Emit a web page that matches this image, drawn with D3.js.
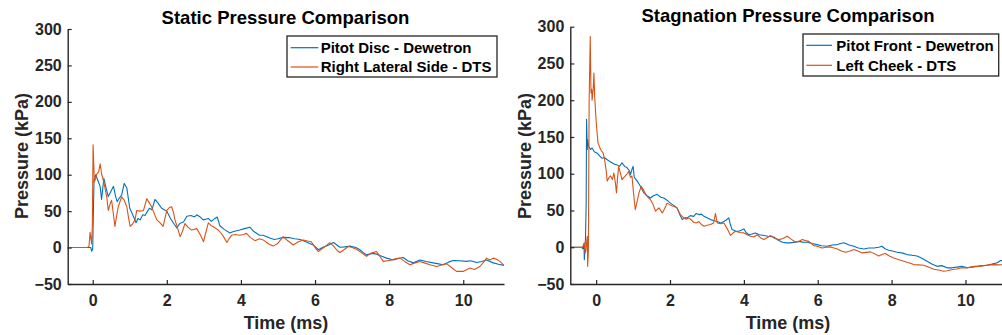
<!DOCTYPE html>
<html><head><meta charset="utf-8">
<script src="https://cdn.jsdelivr.net/npm/d3@7"></script>
<style>
html,body{margin:0;padding:0;background:#fff;}
svg{display:block;font-family:"Liberation Sans",Arial,sans-serif;}
</style></head>
<body><svg id="c" width="1002" height="335"></svg>
<script>
const yTicks = [-50, 0, 50, 100, 150, 200, 250, 300];
const xTicks = [0, 2, 4, 6, 8, 10];
const titles = ["Static Pressure Comparison", "Stagnation Pressure Comparison"];
const legendLabels = [["Pitot Disc - Dewetron", "Right Lateral Side - DTS"], ["Pitot Front - Dewetron", "Left Cheek - DTS"]];
const xLabel = "Time (ms)";
const yLabel = "Pressure (kPa)";

// [time (ms), pressure (kPa)]
const staticDewetron = [[-0.675,0],[-0.3,0],[-0.05,0],[-0.03,-5],[0.0,-2],[0.035,93],[0.08,100],[0.14,92],[0.2,84],[0.24,66],[0.3,95],[0.36,82],[0.42,70],[0.5,78],[0.56,84],[0.62,70],[0.66,63],[0.72,68],[0.78,72],[0.85,88],[0.92,82],[1.0,54],[1.08,45],[1.17,34],[1.22,40],[1.28,38],[1.35,45],[1.41,44],[1.48,50],[1.53,54],[1.6,52],[1.68,66],[1.75,62],[1.86,54],[1.93,52],[2.0,50],[2.1,40],[2.2,32],[2.27,27],[2.35,33],[2.45,35],[2.54,43],[2.65,44],[2.75,42],[2.81,45],[2.9,42],[2.98,38],[3.05,39],[3.12,40],[3.2,36],[3.3,40],[3.36,42],[3.43,30],[3.55,25],[3.7,20],[3.8,22],[3.97,24],[4.1,26],[4.24,28],[4.35,22],[4.5,17],[4.6,17],[4.78,13],[4.9,11],[5.0,12],[5.15,14],[5.32,13.6],[5.45,12],[5.6,11],[5.75,8],[5.95,3.6],[6.09,-3],[6.2,0],[6.31,2.3],[6.5,7],[6.67,0.5],[6.8,1],[6.94,2],[7.1,0],[7.21,-3],[7.3,-7],[7.39,-10],[7.55,-8],[7.66,-9],[7.8,-12],[7.93,-14.5],[8.11,-17],[8.25,-15],[8.38,-13.6],[8.5,-18],[8.65,-21],[8.83,-17],[9.0,-19],[9.19,-21],[9.3,-22],[9.46,-23.6],[9.6,-20],[9.73,-17.7],[9.9,-18],[10.09,-19],[10.2,-18],[10.36,-20.5],[10.5,-19],[10.63,-17],[10.81,-21],[10.95,-23],[11.1,-24.5]];
const staticDTS = [[-0.675,0],[-0.15,0],[-0.1,2],[-0.07,21],[-0.03,5],[-0.01,30],[0.01,141],[0.045,90],[0.08,95],[0.11,101],[0.16,104],[0.2,115],[0.24,101],[0.3,90],[0.38,69],[0.42,51],[0.47,60],[0.51,65],[0.56,45],[0.6,29],[0.65,45],[0.69,56],[0.78,69.5],[0.85,65],[0.92,56],[0.97,40],[1.01,29],[1.07,32],[1.14,38],[1.19,51],[1.28,50],[1.37,51],[1.46,67],[1.52,62],[1.59,56],[1.65,48],[1.73,38],[1.8,35],[1.9,29],[1.95,40],[2.0,51],[2.07,55],[2.13,56],[2.18,48],[2.22,38],[2.3,25],[2.36,15],[2.42,22],[2.49,33],[2.57,28],[2.67,24],[2.81,26],[2.9,18],[2.99,8],[3.05,20],[3.12,34],[3.2,30],[3.26,28.6],[3.39,24],[3.46,20],[3.53,15],[3.62,7],[3.68,12],[3.75,17],[3.85,18],[3.97,17],[4.07,18],[4.15,19.5],[4.25,14],[4.38,9.5],[4.5,12],[4.6,10.5],[4.75,5],[4.87,2],[5.0,6],[5.14,15],[5.25,10],[5.41,3.6],[5.55,8],[5.68,10.5],[5.8,9],[5.9,8],[6.0,0],[6.09,-5.5],[6.18,-2],[6.27,1.4],[6.4,6.8],[6.5,2],[6.6,-4],[6.67,-6.8],[6.78,-3],[6.9,1.4],[7.0,0],[7.12,-2.3],[7.25,-7],[7.39,-12],[7.5,-8],[7.66,-5.5],[7.75,-12],[7.84,-19],[7.95,-18],[8.07,-17],[8.18,-15],[8.29,-14.5],[8.42,-19],[8.56,-23.6],[8.7,-21],[8.83,-19],[8.95,-21],[9.1,-23.6],[9.28,-26],[9.42,-24],[9.55,-22],[9.7,-28],[9.82,-32.7],[10.0,-32.7],[10.1,-30],[10.18,-28],[10.3,-30],[10.45,-26],[10.55,-20],[10.63,-14.5],[10.72,-17],[10.81,-14.5],[10.9,-16],[10.99,-19],[11.1,-24.5]];
const stagDewetron = [[-0.7,0],[-0.4,0],[-0.35,-2],[-0.33,5],[-0.32,-17],[-0.3,3],[-0.29,10],[-0.27,60],[-0.26,174],[-0.24,133],[-0.23,146],[-0.2,137],[-0.15,133],[-0.11,135],[-0.05,130],[0.03,128],[0.1,124],[0.16,121],[0.22,122],[0.3,119],[0.36,117],[0.43,115],[0.5,113],[0.57,112],[0.63,110],[0.7,115],[0.77,110],[0.84,108],[0.9,104],[0.93,99],[0.97,106],[1.0,110],[1.03,96],[1.05,94],[1.11,90],[1.2,83],[1.29,74],[1.38,70],[1.47,67],[1.55,70],[1.65,72],[1.75,68],[1.83,67],[1.92,64],[2.01,60],[2.1,57],[2.19,53.5],[2.26,45],[2.33,37.6],[2.4,40],[2.46,40],[2.55,43],[2.64,42],[2.71,46],[2.78,44.4],[2.85,45],[2.92,42],[3.0,40],[3.1,37.6],[3.2,36],[3.28,35],[3.37,33],[3.46,35],[3.52,37],[3.59,40],[3.63,32],[3.68,24],[3.77,22],[3.86,21.8],[3.93,23],[4.0,25],[4.06,20],[4.13,17],[4.22,18],[4.31,19.5],[4.42,17],[4.54,16],[4.65,15],[4.81,14],[4.92,10],[5.04,6.8],[5.15,6],[5.26,5.9],[5.38,7],[5.49,8],[5.6,7],[5.71,6.8],[5.85,5],[5.98,3.6],[6.1,2],[6.25,1.4],[6.4,3],[6.53,3.6],[6.62,5],[6.71,6],[6.85,3],[6.98,1.4],[7.1,-1],[7.25,-2.3],[7.38,-1],[7.52,-1],[7.65,0],[7.74,1.4],[7.82,-2],[7.92,-4],[8.05,-5.5],[8.15,-6.8],[8.3,-8],[8.42,-10],[8.55,-11],[8.69,-12],[8.82,-15],[8.96,-19],[9.1,-23],[9.23,-26],[9.36,-25],[9.5,-28],[9.63,-28],[9.77,-27],[9.9,-26],[10.05,-28],[10.18,-27],[10.32,-26],[10.45,-25],[10.59,-24.5],[10.72,-23],[10.86,-21],[10.95,-18],[11.1,-19]];
const stagDTS = [[-0.7,0],[-0.38,0],[-0.35,2],[-0.32,6],[-0.3,-8],[-0.28,-5],[-0.26,5],[-0.24,15],[-0.23,-26],[-0.21,-5],[-0.19,200],[-0.16,287],[-0.14,210],[-0.12,215],[-0.11,200],[-0.08,215],[-0.06,237],[-0.04,205],[-0.01,180],[0.01,165],[0.05,142],[0.12,133],[0.19,128],[0.23,119],[0.27,105],[0.3,90],[0.35,95],[0.39,97],[0.44,92],[0.48,101],[0.52,88],[0.55,74],[0.58,95],[0.61,110],[0.66,100],[0.7,92],[0.75,95],[0.79,97],[0.84,100],[0.88,103],[0.93,95],[0.97,97],[1.01,75],[1.06,51],[1.1,60],[1.16,74],[1.22,83],[1.28,78],[1.34,72],[1.4,68],[1.47,65],[1.54,58],[1.61,49],[1.7,53.5],[1.79,46.7],[1.85,52],[1.92,60],[1.99,58],[2.06,56],[2.13,55],[2.19,53.5],[2.28,44.4],[2.37,40],[2.44,38],[2.51,40],[2.58,37],[2.64,34],[2.71,33],[2.78,35],[2.85,31],[2.92,28.6],[3.0,30],[3.1,31],[3.18,33],[3.23,46],[3.26,38],[3.28,33],[3.37,32],[3.46,33],[3.55,25],[3.64,16],[3.7,19],[3.77,21.8],[3.88,20],[4.0,19.5],[4.09,17],[4.18,15],[4.27,14],[4.36,17],[4.45,13],[4.54,10.4],[4.63,13],[4.72,16],[4.83,12],[4.95,10.4],[5.06,12],[5.17,15],[5.28,11],[5.4,6.8],[5.49,8],[5.58,10.4],[5.67,9],[5.76,8],[5.89,2.3],[6.0,1],[6.12,-1],[6.23,0],[6.34,0.5],[6.44,-1],[6.53,-2.3],[6.64,-5],[6.75,-6.8],[6.87,-5],[6.98,-3],[7.09,-5],[7.2,-7.7],[7.32,-7],[7.43,-6.3],[7.54,-9],[7.65,-12],[7.74,-10],[7.83,-8.6],[7.94,-12],[8.06,-14.5],[8.2,-17],[8.33,-19],[8.46,-21],[8.6,-23.6],[8.73,-24],[8.87,-24.5],[9.0,-27],[9.14,-30],[9.28,-31],[9.41,-32.6],[9.5,-32],[9.59,-31],[9.68,-30],[9.77,-29.5],[9.9,-28],[10.05,-28],[10.14,-27],[10.23,-26],[10.36,-26],[10.5,-25],[10.63,-24],[10.77,-23.6],[10.9,-24],[11.1,-23.6]];

const colors = ["#0072BD", "#D95319"];
const axisColor = "#262626";

const panels = [
  {series:[staticDewetron, staticDTS], xDom:[-0.675, 11.1], xr:[67.7, 504], yr:[284, 29], titleX:285.5, titleY:23.5, ylabX:27.5, xlabX:286,
   leg:{x:287, y:36, w:210, h:41, lx1:290.7, lx2:318.3, tx:320.7, r1:47.7, r2:67}},
  {series:[stagDewetron, stagDTS], xDom:[-0.7, 11.1], xr:[570.3, 1006.1], yr:[284, 26.7], titleX:788, titleY:21.5, ylabX:531, xlabX:788,
   leg:{x:803, y:34, w:195.7, h:42, lx1:806.3, lx2:832, tx:836.3, r1:45.3, r2:65.3}}
];

const svg = d3.select("#c");
panels.forEach((p, i) => {
  const x = d3.scaleLinear().domain(p.xDom).range(p.xr);
  const y = d3.scaleLinear().domain([-50, 300]).range(p.yr);
  const g = svg.append("g");
  const cid = "clip" + i;
  svg.append("defs").append("clipPath").attr("id", cid).append("rect")
    .attr("x", p.xr[0]).attr("y", p.yr[1]).attr("width", p.xr[1]-p.xr[0]).attr("height", p.yr[0]-p.yr[1]);
  const line = d3.line().x(d => x(d[0])).y(d => y(d[1]));
  const lg = g.append("g").attr("clip-path", `url(#${cid})`);
  p.series.forEach((s, k) => {
    lg.append("path").datum(s).attr("d", line).attr("fill", "none")
      .attr("stroke", colors[k]).attr("stroke-width", 1.1).attr("stroke-linejoin", "round");
  });
  const xa = g.append("g").attr("transform", `translate(0,${p.yr[0]})`)
    .call(d3.axisBottom(x).tickValues(xTicks).tickSizeInner(-4).tickSizeOuter(0).tickPadding(11).tickFormat(d3.format("d")));
  const ya = g.append("g").attr("transform", `translate(${p.xr[0]},0)`)
    .call(d3.axisLeft(y).tickValues(yTicks).tickSizeInner(-4).tickSizeOuter(0).tickPadding(6).tickFormat(d3.format("d")));
  [xa, ya].forEach(a => {
    a.select(".domain").attr("stroke", axisColor).attr("stroke-width", 1.4);
    a.selectAll(".tick line").attr("stroke", axisColor).attr("stroke-width", 1.2);
    a.selectAll(".tick text").attr("fill", axisColor).attr("font-size", 16).attr("font-weight", "bold")
      .attr("font-family", "Liberation Sans, Arial, sans-serif");
  });
  g.append("text").attr("x", p.titleX).attr("y", p.titleY).attr("text-anchor", "middle")
    .attr("font-size", 18.5).attr("font-weight", "bold").attr("fill", "#000").text(titles[i]);
  g.append("text").attr("x", p.xlabX).attr("y", 329).attr("text-anchor", "middle")
    .attr("font-size", 18).attr("font-weight", "bold").attr("fill", axisColor).text(xLabel);
  g.append("text").attr("transform", `translate(${p.ylabX},156) rotate(-90)`).attr("text-anchor", "middle")
    .attr("font-size", 18).attr("font-weight", "bold").attr("fill", axisColor).text(yLabel);
  const L = p.leg;
  g.append("rect").attr("x", L.x).attr("y", L.y).attr("width", L.w).attr("height", L.h)
    .attr("fill", "#fff").attr("stroke", axisColor).attr("stroke-width", 1.3);
  [L.r1, L.r2].forEach((ry, k) => {
    g.append("line").attr("x1", L.lx1).attr("x2", L.lx2).attr("y1", ry).attr("y2", ry)
      .attr("stroke", colors[k]).attr("stroke-width", 1.2);
    g.append("text").attr("x", L.tx).attr("y", ry + 5.3).attr("font-size", 15).attr("font-weight", "bold")
      .attr("fill", "#000").text(legendLabels[i][k]);
  });
});
</script></body></html>
